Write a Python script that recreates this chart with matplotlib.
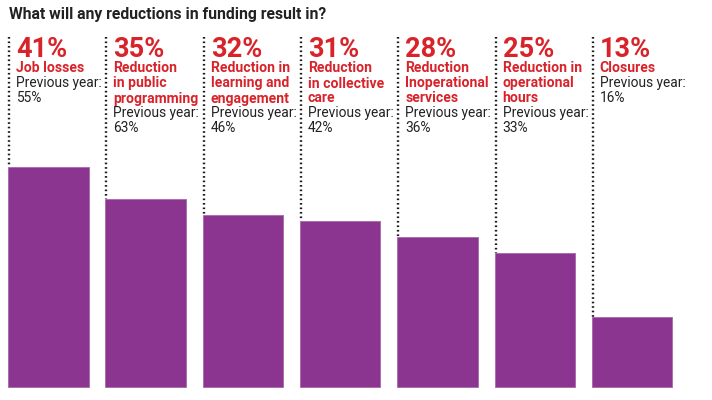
import matplotlib
matplotlib.use("Agg")
import matplotlib.pyplot as plt

title = "What will any reductions in funding result in?"
values = [41, 35, 32, 31, 28, 25, 13]
labels = [
    "Job losses",
    "Reduction\nin public\nprogramming",
    "Reduction in\nlearning and\nengagement",
    "Reduction\nin collective\ncare",
    "Reduction\nInoperational\nservices",
    "Reduction in\noperational\nhours",
    "Closures",
]
previous = [55, 63, 46, 42, 36, 33, 16]

W, H = 712, 400
purple = "#8b3590"
red = "#d8232a"
dark = "#222222"

fig = plt.figure(figsize=(W / 100, H / 100), dpi=100)
ax = fig.add_axes([0, 0, 1, 1])
step = 97.3
x0 = 48.3
ax.set_xlim(-x0 / step, (W - x0) / step)
ppv = 5.37
base = 387
ax.set_ylim(-(H - base) / ppv, base / ppv)
ax.axis("off")

bw = 80.5 / step
xs = list(range(len(values)))
ax.bar(xs, values, width=bw, color=purple, edgecolor="#a567a8", linewidth=0.6)

def py2v(py):
    return (base - py) / ppv

for i, v in enumerate(values):
    xl = i - bw / 2 + 1.0 / step
    ax.plot([xl, xl], [py2v(37), v], color="#1a1a1a", lw=1.7,
            linestyle=(0, (0.7, 1.2)), solid_capstyle="butt")
    xt = xl + 7 / step
    ax.text(xt, py2v(57), f"{v}%", color=red, fontsize=19.5, fontweight="bold",
            family="Roboto", va="baseline", ha="left")
    lines = labels[i].split("\n")
    y = 72.5
    for ln in lines:
        ax.text(xt, py2v(y), ln, color=red, fontsize=10.1, fontweight="bold",
                family="Roboto", va="baseline", ha="left")
        y += 15
    ax.text(xt, py2v(y), "Previous year:", color=dark, fontsize=9.9,
            family="Roboto", va="baseline", ha="left")
    y += 15
    ax.text(xt, py2v(y), f"{previous[i]}%", color=dark, fontsize=9.9,
            family="Roboto", va="baseline", ha="left")

fig.text(9 / W, 1 - 19 / H, title, color=dark, fontsize=11.3, fontweight="bold",
         family="Roboto", va="baseline", ha="left")

fig.savefig("out.png", dpi=100)
